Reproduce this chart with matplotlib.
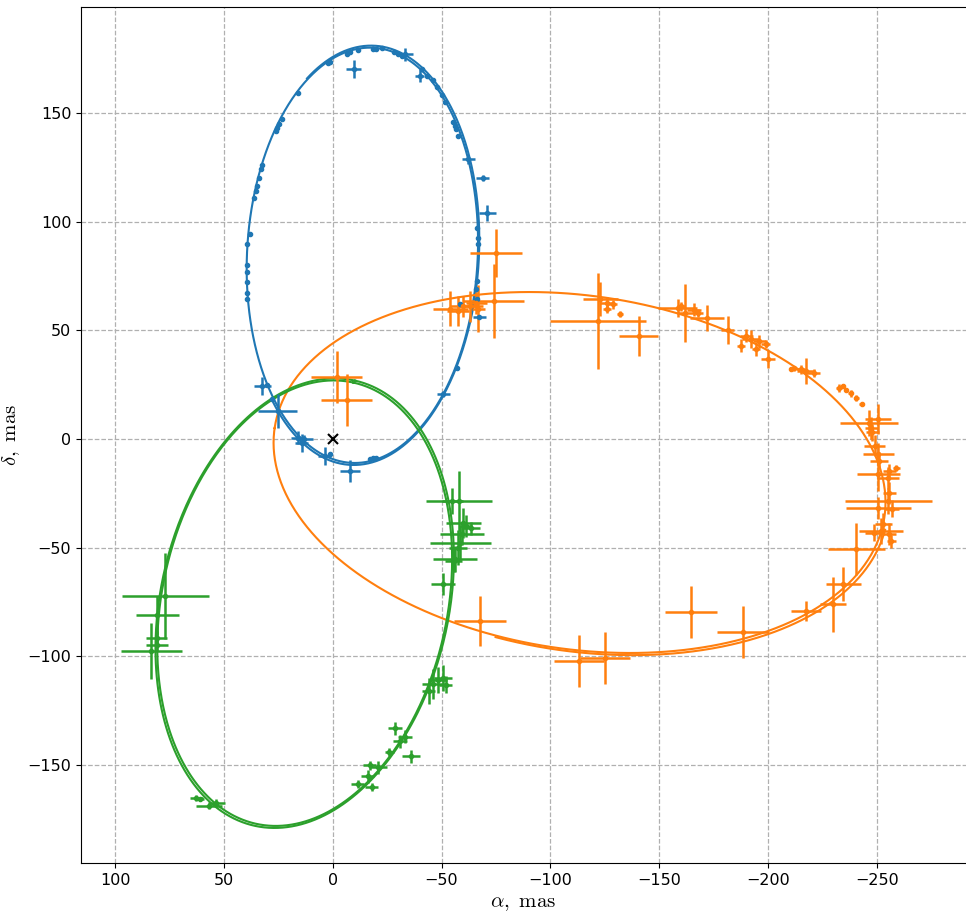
import numpy as np
import matplotlib
matplotlib.use("Agg")
import matplotlib.pyplot as plt

plt.rcParams['mathtext.fontset'] = 'cm'

# ---- orbit ellipses: centre x, centre y, semi-major, semi-minor, angle (deg) ----
orbit_names = ["blue", "orange", "green"]
orbit_cx = [-13.6, -113.4, 12.9]
orbit_cy = [84.5, -15.4, -75.5]
orbit_a = [95.6, 141.6, 103.9]
orbit_b = [53.0, 81.3, 65.5]
orbit_phi = [93.0, 8.3, 102.4]
# second revolution: scale factor, rotation offset (deg), arc start/end (rad)
orbit2_scale = [1.010, 1.010, 1.010]
orbit2_dphi = [0.4, 0.4, 0.4]
orbit2_t0 = [-0.6, 3.2, 0.0]
orbit2_t1 = [3.9, 4.9, 6.2832]

# ---- blue star data ----
blue_x = [39.5, 39.5, 39.2, 39.6, 39.2, 39.2, 38.2, 36.4, 35.5, 35.0, 33.8, 33.0, 32.5,
          26.0, 25.5, 24.8, 23.5, 16.0, 2.3, 1.5, -6.5, -8.0, -11.5, -18.4, -20.0, -22.6,
          -28.0, -30.0, -32.0, -41.0, -43.3, -46.0, -48.0, -50.2, -51.6, -55.3, -56.2,
          -56.7, -57.6, -66.4, -66.8, -66.8, -66.4, -66.0, -66.4, -58.5, -57.1, -20.0,
          -18.5, -17.0, 1.4, 28.0, 30.0,
          -9.7, -33.2, -40.0, -62.3, -69.0, -71.0, -67.3, -50.7, 32.3, 25.3, 16.0, 14.3,
          13.0, 3.7, -7.8]
blue_y = [64.5, 67.0, 72.0, 77.0, 80.0, 89.7, 94.3, 111.0, 114.0, 116.5, 120.0, 124.0, 126.0,
          141.6, 143.0, 145.0, 147.0, 159.0, 173.0, 173.5, 177.0, 178.0, 179.0, 179.3, 179.5,
          179.8, 178.0, 177.0, 176.0, 170.0, 167.0, 165.0, 162.0, 158.0, 155.0, 146.0, 144.0,
          142.5, 139.3, 97.0, 92.4, 89.7, 72.6, 69.0, 64.4, 62.0, 32.6, -8.7, -8.5, -9.0,
          -6.9, 18.4, 25.0,
          170.1, 177.0, 167.0, 128.7, 120.0, 104.0, 56.0, 20.7, 24.4, 12.9, 0.5, -1.8,
          0.0, -7.8, -14.7]
blue_xerr = [0.8] * 53 + [3.5, 3.5, 2.0, 3.0, 3.0, 4.0, 3.0, 3.0, 4.0, 9.0, 3.0, 3.0,
                          4.0, 3.0, 4.5]
blue_yerr = [0.8] * 53 + [4.0, 3.0, 3.0, 2.0, 1.5, 3.5, 1.0, 1.5, 4.0, 8.0, 3.0, 4.0,
                          2.0, 4.0, 5.0]

# ---- orange star data ----
orange_x = [-1.8, -6.5, -75.0, -54.0, -57.6, -63.0, -66.0, -74.0, -66.8, -60.0,
            -122.0, -123.0, -126.0, -128.6, -126.0, -132.0, -140.5, -158.5, -160.0, -162.0,
            -166.0, -168.0, -172.0, -181.6, -187.6, -190.0, -192.0, -194.5, -196.0, -199.0,
            -200.0, -210.6, -212.0, -215.0, -217.5, -221.0, -232.7, -234.6, -236.0, -238.0,
            -240.6, -243.0, -246.5, -247.5, -250.7, -248.0, -249.0, -250.7, -251.0, -255.8,
            -259.0, -250.7, -255.0, -255.8, -255.3, -250.7, -257.0, -253.0, -252.0, -248.8,
            -255.8, -256.7, -240.6, -234.6, -230.0, -217.5, -188.5, -164.5, -125.3, -113.0,
            -67.7]
orange_y = [28.5, 17.9, 85.5, 60.0, 59.0, 61.0, 62.5, 63.4, 60.0, 61.0,
            54.3, 64.4, 62.5, 62.0, 60.0, 57.5, 47.4, 60.2, 61.0, 58.0,
            59.4, 58.0, 55.7, 50.0, 42.8, 47.4, 46.0, 41.4, 45.0, 43.7,
            36.8, 32.2, 32.5, 32.0, 31.3, 30.3, 23.4, 24.4, 22.5, 21.0,
            18.9, 16.0, 7.4, 5.0, 9.2, 3.0, -3.0, -6.9, -10.0, -14.7,
            -13.3, -16.0, -18.0, -24.8, -28.5, -31.7, -32.0, -39.0, -42.3, -43.0,
            -43.7, -47.0, -50.6, -66.7, -76.0, -79.0, -88.7, -79.5, -100.7, -102.0,
            -83.7]
orange_xerr = [11.7, 11.7, 12.0, 8.0, 5.0, 6.0, 5.0, 14.0, 3.0, 6.0,
               22.0, 8.0, 3.0, 2.0, 2.0, 1.5, 9.0, 9.0, 2.0, 4.0,
               3.0, 2.0, 8.0, 3.0, 2.0, 3.0, 4.0, 2.0, 3.0, 2.0,
               3.0, 1.0, 1.0, 2.0, 4.0, 3.0, 1.5, 1.0, 1.0, 1.0,
               1.0, 1.0, 13.4, 3.0, 6.0, 3.0, 5.0, 7.0, 4.0, 3.0,
               1.5, 10.0, 5.0, 3.0, 20.0, 15.0, 3.0, 4.0, 10.0, 4.0,
               3.0, 2.0, 13.0, 8.0, 6.0, 7.0, 12.0, 12.0, 11.5, 11.5,
               12.0]
orange_yerr = [12.0, 12.0, 11.0, 8.0, 7.0, 7.0, 5.0, 17.0, 11.0, 5.0,
               22.0, 8.0, 3.0, 2.0, 2.0, 1.5, 9.0, 4.0, 2.0, 13.4,
               3.0, 2.0, 6.0, 6.5, 3.0, 3.0, 4.0, 3.0, 3.0, 2.0,
               4.0, 1.0, 1.0, 2.0, 6.0, 2.0, 2.0, 1.0, 1.0, 1.5,
               1.5, 1.0, 6.0, 5.0, 7.0, 4.0, 5.0, 5.0, 4.0, 3.0,
               1.5, 8.0, 5.0, 5.0, 6.0, 5.0, 4.0, 5.0, 6.0, 4.0,
               5.0, 3.0, 12.0, 8.0, 12.6, 4.6, 12.0, 12.0, 12.0, 12.0,
               11.5]

# ---- green star data ----
green_x = [77.0, 80.6, 81.0, 80.6, 83.4, 62.7, 61.0, 56.7, 53.5,
           -58.0, -55.0, -60.0, -63.6, -61.0, -59.4, -58.5, -57.6, -56.2, -55.5, -50.7,
           -46.0, -48.4, -50.7, -52.0, -44.0,
           -33.2, -30.9, -28.6, -36.0, -26.0, -20.7, -17.0, -16.0, -11.5, -18.0]
green_y = [-72.2, -81.0, -91.5, -94.7, -97.5, -165.0, -165.5, -168.7, -167.4,
           -28.5, -28.5, -38.6, -41.0, -40.0, -43.7, -47.8, -50.0, -55.0, -56.0, -66.7,
           -112.6, -111.0, -110.0, -113.0, -116.0,
           -137.0, -139.0, -133.0, -146.0, -144.0, -151.0, -150.0, -155.0, -158.6, -160.0]
green_xerr = [20.0, 10.0, 5.0, 5.0, 14.0, 3.0, 2.0, 6.0, 4.0,
              15.0, 5.0, 8.0, 4.0, 3.0, 10.0, 14.0, 4.0, 10.0, 4.0, 5.4,
              5.0, 4.0, 4.0, 3.0, 3.0,
              3.0, 3.0, 3.0, 4.0, 2.0, 4.0, 3.0, 3.0, 3.0, 3.0]
green_yerr = [20.0, 9.0, 3.0, 3.0, 13.0, 1.5, 1.0, 1.5, 2.0,
              14.0, 6.0, 7.0, 3.0, 5.0, 5.0, 8.0, 8.0, 6.0, 5.0, 5.0,
              7.0, 6.0, 6.0, 4.0, 6.0,
              3.0, 3.0, 3.0, 3.0, 2.0, 3.0, 2.0, 3.0, 2.0, 2.0]

colors = ["C0", "C1", "C2"]
datasets = [(blue_x, blue_y, blue_xerr, blue_yerr),
            (orange_x, orange_y, orange_xerr, orange_yerr),
            (green_x, green_y, green_xerr, green_yerr)]


def ellipse(cx, cy, a, b, phi_deg, t):
    p = np.radians(phi_deg)
    x = cx + a * np.cos(t) * np.cos(p) - b * np.sin(t) * np.sin(p)
    y = cy + a * np.cos(t) * np.sin(p) + b * np.sin(t) * np.cos(p)
    return x, y


fig = plt.figure(figsize=(9.66, 9.22), dpi=100)
ax = fig.add_axes([81 / 966, (922 - 863) / 922, (966 - 81) / 966, (863 - 7) / 922])

for i in range(3):
    t = np.linspace(0, 2 * np.pi, 600)
    ex, ey = ellipse(orbit_cx[i], orbit_cy[i], orbit_a[i], orbit_b[i], orbit_phi[i], t)
    ax.plot(ex, ey, color=colors[i], lw=1.5, zorder=3)
    t2 = np.linspace(orbit2_t0[i], orbit2_t1[i], 400)
    ex2, ey2 = ellipse(orbit_cx[i], orbit_cy[i], orbit_a[i] * orbit2_scale[i],
                       orbit_b[i] * orbit2_scale[i], orbit_phi[i] + orbit2_dphi[i], t2)
    ax.plot(ex2, ey2, color=colors[i], lw=1.5, zorder=3)
    x, y, xe, ye = datasets[i]
    ax.errorbar(x, y, xerr=xe, yerr=ye, fmt='.', color=colors[i], ms=6,
                elinewidth=1.8, capsize=0, zorder=4)

ax.plot([0], [0], marker='x', color='black', ms=7, mew=1.5, ls='none', zorder=5)

ax.set_xlim(115.7, -291)
ax.set_ylim(-195, 198.7)
ax.set_xticks([100, 50, 0, -50, -100, -150, -200, -250])
ax.set_yticks([-150, -100, -50, 0, 50, 100, 150])
ax.tick_params(labelsize=11.5)
ax.grid(True, linestyle='--', color='#b0b0b0', lw=0.9)
ax.spines['right'].set_visible(False)
ax.set_xlabel(r'$\alpha,\ \mathrm{mas}$', fontsize=15)
ax.set_ylabel(r'$\delta,\ \mathrm{mas}$', fontsize=15)

fig.savefig("out.png", dpi=100)
